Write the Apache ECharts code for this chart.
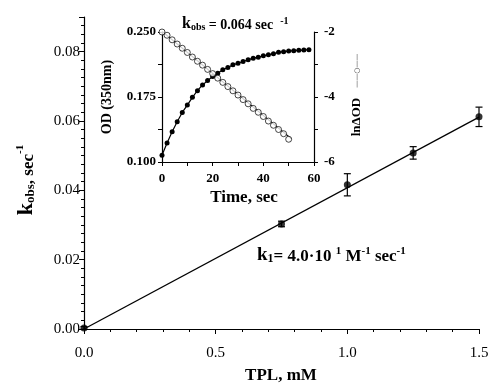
<!DOCTYPE html>
<html>
<head>
<meta charset="utf-8">
<script src="https://cdn.jsdelivr.net/npm/echarts@6/dist/echarts.min.js"></script>
<style>
  html, body { margin: 0; padding: 0; background: #fff; }
  #chart { width: 492px; height: 385px; }
</style>
</head>
<body>
<div id="chart"></div>
<script>
// main plot: kobs vs TPL
const tplConc = [0, 0.75, 1.0, 1.25, 1.5];
const kobsVals = [0.0003, 0.0303, 0.0416, 0.0508, 0.0612];
const kobsErr = [0.0004, 0.0008, 0.0032, 0.0018, 0.0028];
const fitX = [0, 1.5];
const fitY = [0, 0.0611];

// inset: OD (350nm) vs time, filled circles
const odTime = [0, 2, 4, 6, 8, 10, 12, 14, 16, 18, 20, 22, 24, 26, 28, 30, 32, 34, 36, 38, 40, 42, 44, 46, 48, 50, 52, 54, 56, 58];
const odVals = [0.1077, 0.1220, 0.1348, 0.1464, 0.1572, 0.1657, 0.1746, 0.1823, 0.1889, 0.1939, 0.1986, 0.2024, 0.2063, 0.2090, 0.2121, 0.2140, 0.2160, 0.2179, 0.2198, 0.2210, 0.2226, 0.2237, 0.2249, 0.2265, 0.2273, 0.2280, 0.2284, 0.2288, 0.2292, 0.2296];

// inset: ln dOD vs time, open circles
const lnTime = [0, 2, 4, 6, 8, 10, 12, 14, 16, 18, 20, 22, 24, 26, 28, 30, 32, 34, 36, 38, 40, 42, 44, 46, 48, 50];
const lnVals = [-2.00, -2.10, -2.24, -2.37, -2.50, -2.63, -2.77, -2.90, -3.02, -3.15, -3.28, -3.42, -3.55, -3.68, -3.81, -3.94, -4.08, -4.21, -4.35, -4.47, -4.60, -4.74, -4.87, -5.00, -5.13, -5.30];
const lnFitX = [0, 51];
const lnFitY = [-1.98, -5.28];

const serif = "Liberation Serif";
const black = "#000";

const chart = echarts.init(document.getElementById("chart"));

const zip = (xs, ys) => xs.map((x, i) => [x, ys[i]]);

chart.setOption({
  animation: false,
  backgroundColor: "#fff",
  grid: [
    { left: 84, top: 17, right: 13, bottom: 56, outerBoundsMode: "none" },
    { left: 162, top: 32, width: 152, height: 130, outerBoundsMode: "none" },
  ],
  xAxis: [
    {
      gridIndex: 0, type: "value", min: 0, max: 1.5, interval: 0.5,
      axisLine: { lineStyle: { color: black, width: 1.2 } },
      axisTick: { length: 5, lineStyle: { color: black } },
      minorTick: { show: true, splitNumber: 5, length: 3, lineStyle: { color: black } },
      splitLine: { show: false },
      axisLabel: { color: black, fontFamily: serif, fontSize: 15, margin: 17, formatter: (v) => v.toFixed(1) },
    },
    {
      gridIndex: 1, type: "value", min: 0, max: 60, interval: 10,
      axisLine: { lineStyle: { color: black, width: 1.2 } },
      axisTick: { length: 4, lineStyle: { color: black } },
      splitLine: { show: false },
      axisLabel: { color: black, fontFamily: serif, fontSize: 13, fontWeight: "bold", margin: 10,
        formatter: (v) => (v % 20 === 0 ? String(v) : "") },
    },
  ],
  yAxis: [
    {
      gridIndex: 0, type: "value", min: 0, max: 0.09, interval: 0.02,
      axisLine: { show: true, lineStyle: { color: black, width: 1.2 } },
      axisTick: { show: true, length: 5, lineStyle: { color: black } },
      minorTick: { show: true, splitNumber: 8, length: 3, lineStyle: { color: black } },
      splitLine: { show: false },
      axisLabel: { color: black, fontFamily: serif, fontSize: 15, margin: 4, showMaxLabel: false,
        formatter: (v) => v.toFixed(2) },
    },
    {
      gridIndex: 1, type: "value", min: 0.1, max: 0.25, interval: 0.0375,
      axisLine: { show: true, lineStyle: { color: black, width: 1.2 } },
      axisTick: { show: true, length: 4, lineStyle: { color: black } },
      splitLine: { show: false },
      axisLabel: { color: black, fontFamily: serif, fontSize: 13, fontWeight: "bold", margin: 6,
        formatter: (v) => {
          const k = Math.round((v - 0.1) / 0.0375);
          return k % 2 === 0 ? v.toFixed(3) : "";
        } },
    },
    {
      gridIndex: 1, type: "value", position: "right", min: -6, max: -2, interval: 1,
      axisLine: { show: true, lineStyle: { color: black, width: 1.2 } },
      axisTick: { show: true, length: 4, lineStyle: { color: black } },
      splitLine: { show: false },
      axisLabel: { color: black, fontFamily: serif, fontSize: 13, fontWeight: "bold", margin: 10,
        formatter: (v) => (v % 2 === 0 ? String(v) : "") },
    },
  ],
  series: [
    {
      name: "fit", type: "line", xAxisIndex: 0, yAxisIndex: 0,
      data: zip(fitX, fitY), showSymbol: false,
      lineStyle: { color: black, width: 1.3 },
    },
    {
      name: "errors", type: "custom", xAxisIndex: 0, yAxisIndex: 0,
      data: tplConc.map((x, i) => [x, kobsVals[i], kobsErr[i]]),
      renderItem: (params, api) => {
        const x = api.value(0), y = api.value(1), e = api.value(2);
        const top = api.coord([x, y + e]);
        const bot = api.coord([x, y - e]);
        const w = 3.5;
        const style = { stroke: black, lineWidth: 1.2 };
        return {
          type: "group",
          children: [
            { type: "line", shape: { x1: top[0], y1: top[1], x2: bot[0], y2: bot[1] }, style },
            { type: "line", shape: { x1: top[0] - w, y1: top[1], x2: top[0] + w, y2: top[1] }, style },
            { type: "line", shape: { x1: bot[0] - w, y1: bot[1], x2: bot[0] + w, y2: bot[1] }, style },
          ],
        };
      },
      z: 3,
    },
    {
      name: "kobs", type: "scatter", xAxisIndex: 0, yAxisIndex: 0,
      data: zip(tplConc, kobsVals), symbol: "circle", symbolSize: 7,
      itemStyle: { color: black }, z: 4,
    },
    {
      name: "OD", type: "line", xAxisIndex: 1, yAxisIndex: 1,
      data: zip(odTime, odVals), symbol: "circle", symbolSize: 5, showSymbol: true,
      lineStyle: { color: black, width: 1.2 }, itemStyle: { color: black },
    },
    {
      name: "lnFit", type: "line", xAxisIndex: 1, yAxisIndex: 2,
      data: zip(lnFitX, lnFitY), showSymbol: false,
      lineStyle: { color: black, width: 1.2 },
    },
    {
      name: "lnOD", type: "scatter", xAxisIndex: 1, yAxisIndex: 2,
      data: zip(lnTime, lnVals), symbol: "circle", symbolSize: 6,
      itemStyle: { color: "#fff", borderColor: black, borderWidth: 0.9 }, z: 4,
    },
  ],
  graphic: [
    {
      type: "text", left: 182, top: 16,
      style: {
        text: "{k|k}{s|obs}{t| = 0.064 sec  }{p|-1}",
        rich: {
          k: { fontFamily: serif, fontWeight: "bold", fontSize: 16, fill: black, verticalAlign: "bottom" },
          s: { fontFamily: serif, fontWeight: "bold", fontSize: 10, fill: black, verticalAlign: "bottom" },
          t: { fontFamily: serif, fontWeight: "bold", fontSize: 14, fill: black, verticalAlign: "bottom" },
          p: { fontFamily: serif, fontWeight: "bold", fontSize: 10, fill: black, verticalAlign: "top" },
        },
      },
    },
    {
      type: "text", x: 107, y: 97, rotation: Math.PI / 2,
      style: {
        text: "OD (350nm)", fontFamily: serif, fontWeight: "bold", fontSize: 14, fill: black,
        align: "center", verticalAlign: "middle",
      },
    },
    {
      type: "text", x: 244, y: 198,
      style: {
        text: "Time, sec", fontFamily: serif, fontWeight: "bold", fontSize: 17, fill: black,
        align: "center", verticalAlign: "middle",
      },
    },
    {
      type: "text", x: 357, y: 95, rotation: Math.PI / 2,
      style: {
        text: "{t|ln\u0394OD}   {g|\u2014\u2014\u25CB\u2014\u2014}",
        align: "center", verticalAlign: "middle",
        rich: {
          t: { fontFamily: serif, fontWeight: "bold", fontSize: 13, fill: black },
          g: { fontFamily: "DejaVu Sans", fontSize: 7, fill: "#444" },
        },
      },
    },
    {
      type: "text", x: 26, y: 180, rotation: Math.PI / 2,
      style: {
        text: "{k|k}{s|obs}{t|, sec}{p|-1}",
        align: "center", verticalAlign: "middle",
        rich: {
          k: { fontFamily: serif, fontWeight: "bold", fontSize: 22, fill: black, verticalAlign: "bottom" },
          s: { fontFamily: serif, fontWeight: "bold", fontSize: 13, fill: black, verticalAlign: "bottom" },
          t: { fontFamily: serif, fontWeight: "bold", fontSize: 17, fill: black, verticalAlign: "bottom" },
          p: { fontFamily: serif, fontWeight: "bold", fontSize: 11, fill: black, verticalAlign: "top" },
        },
      },
    },
    {
      type: "text", x: 281, y: 376,
      style: {
        text: "TPL, mM", fontFamily: serif, fontWeight: "bold", fontSize: 17, fill: black,
        align: "center", verticalAlign: "middle",
      },
    },
    {
      type: "text", left: 257, top: 246,
      style: {
        text: "{k|k}{s|1}{t|= 4.0\u00B710 }{p|1}{t| M}{p|-1}{t| sec}{p|-1}",
        rich: {
          k: { fontFamily: serif, fontWeight: "bold", fontSize: 19, fill: black, verticalAlign: "bottom" },
          s: { fontFamily: serif, fontWeight: "bold", fontSize: 12, fill: black, verticalAlign: "bottom" },
          t: { fontFamily: serif, fontWeight: "bold", fontSize: 17, fill: black, verticalAlign: "bottom" },
          p: { fontFamily: serif, fontWeight: "bold", fontSize: 11, fill: black, verticalAlign: "top" },
        },
      },
    },
  ],
});
</script>
</body>
</html>
